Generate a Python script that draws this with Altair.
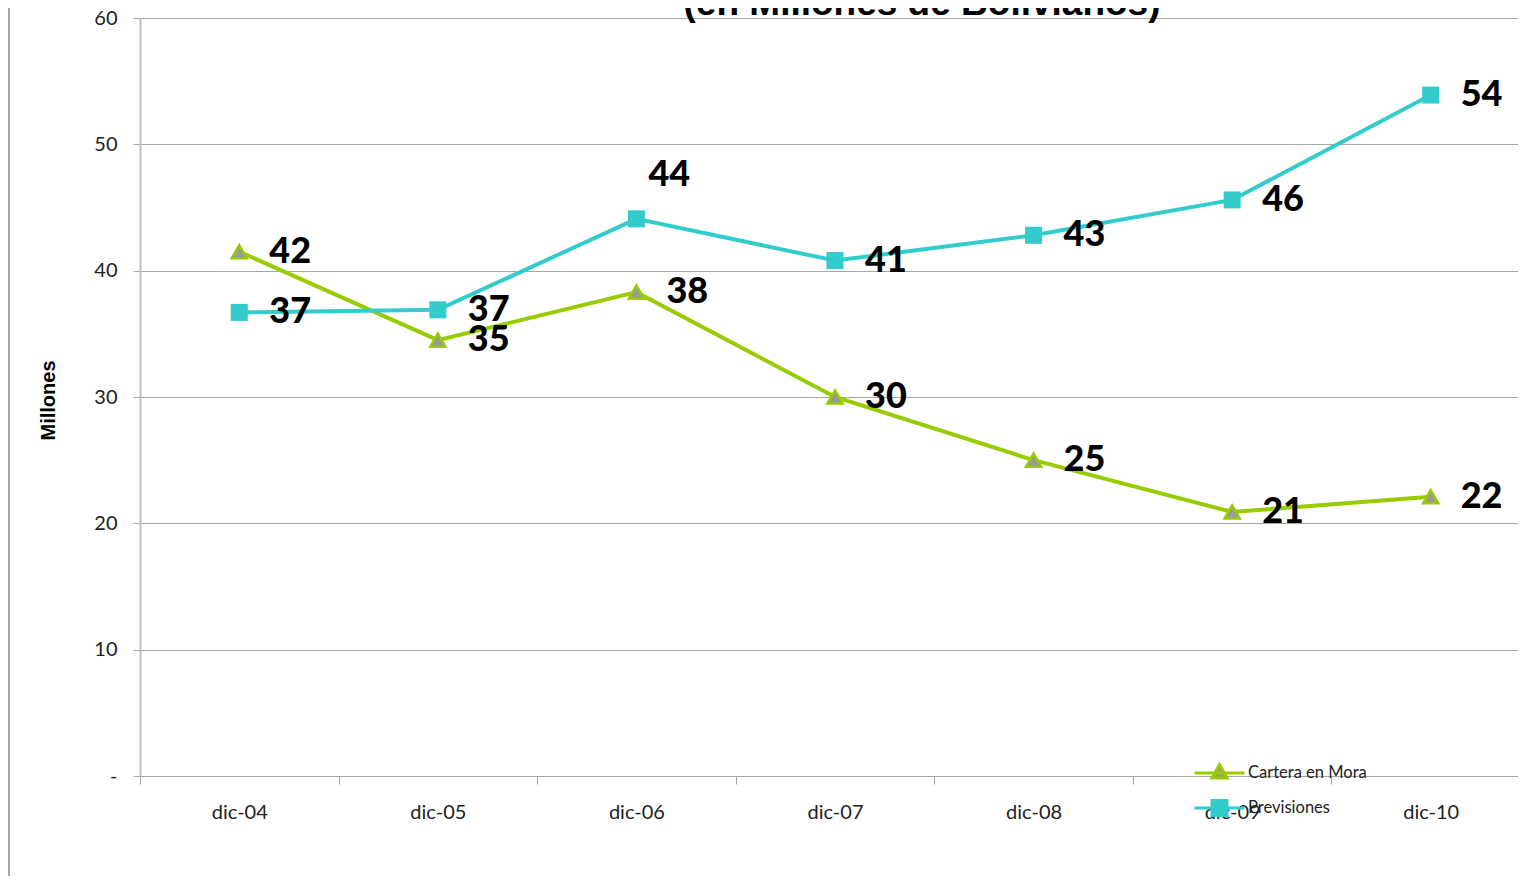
import altair as alt
import pandas as pd

categories = ["dic-04", "dic-05", "dic-06", "dic-07", "dic-08", "dic-09", "dic-10"]
series_names = ["Cartera en Mora", "Previsiones"]
cartera = [41.5, 34.5, 38.3, 30.0, 25.0, 20.9, 22.1]
previsiones = [36.7, 36.9, 44.1, 40.8, 42.8, 45.6, 53.9]
y_ticks = [0, 10, 20, 30, 40, 50, 60]

GREEN = "#99CC00"
CYAN = "#33CCCC"
GRAY_FILL = "#999999"

rows = []
for c, v in zip(categories, cartera):
    rows.append({"cat": c, "series": series_names[0], "value": v})
for c, v in zip(categories, previsiones):
    rows.append({"cat": c, "series": series_names[1], "value": v})
df = pd.DataFrame(rows)

x_enc = alt.X(
    "cat:N",
    sort=categories,
    bandPosition=0.5,
    scale=alt.Scale(type="band", paddingInner=0, paddingOuter=0, range=[0, 1390]),
    axis=alt.Axis(
        title=None, tickBand="extent", grid=False, domainColor="#A6A6A6",
        tickColor="#A6A6A6", tickSize=8, labelFont="Lato", labelFontSize=20,
        labelColor="#222222", labelAngle=0, labelPadding=18,
    ),
)
y_enc = alt.Y(
    "value:Q",
    scale=alt.Scale(domain=[0, 60], nice=False, zero=True),
    axis=alt.Axis(
        values=y_ticks, grid=True, gridColor="#A6A6A6", gridWidth=1,
        domainColor="#BFBFBF", domainWidth=2, tickColor="#A6A6A6", tickSize=7,
        labelFont="Lato", labelFontSize=20, labelColor="#222222", labelPadding=16,
        labelExpr="datum.value == 0 ? '-\u00a0\u00a0\u00a0\u00a0\u00a0' : datum.label",
        title="Millones", titleFont="Liberation Sans Narrow, Liberation Sans",
        titleFontSize=20, titleFontWeight="bold", titleColor="#000000",
        titleX=-92, titleY=382, titleAngle=-90, titleAlign="center",
        titleBaseline="middle",
    ),
)

base = alt.Chart(df)

lines = base.mark_line(strokeWidth=4).encode(
    x=x_enc, y=y_enc,
    color=alt.Color("series:N", scale=alt.Scale(domain=series_names, range=[GREEN, CYAN]), legend=None),
)

tri = base.mark_point(shape="triangle-up", filled=True, fill=GRAY_FILL, stroke=GREEN,
                      strokeWidth=2.5, size=230, opacity=1).encode(x=x_enc, y=y_enc).transform_filter(
    alt.datum.series == series_names[0])

sq = base.mark_point(shape="square", filled=True, color=CYAN, size=290, opacity=1).encode(
    x=x_enc, y=y_enc).transform_filter(alt.datum.series == series_names[1])

path1 = "M-1,0L1,0M-0.3,0.2L0,-0.34L0.3,0.2Z"
path2 = "M-1,0L1,0M-0.3,-0.3L0.3,-0.3L0.3,0.3L-0.3,0.3Z"

leg = alt.Legend(
    title=None, orient="none", legendX=1053, legendY=740, padding=0,
    symbolSize=2500, symbolStrokeWidth=3, symbolOpacity=1, clipHeight=30,
    rowPadding=5, labelFont="Lato", labelFontSize=16.5, labelColor="#222222",
    labelOffset=2,
)

legend_layer = base.mark_point(filled=True, opacity=0, strokeWidth=3).encode(
    x=x_enc, y=y_enc,
    fill=alt.Fill("series:N", scale=alt.Scale(domain=series_names, range=[GRAY_FILL, CYAN]), legend=leg),
    stroke=alt.Stroke("series:N", scale=alt.Scale(domain=series_names, range=[GREEN, CYAN]), legend=leg),
    shape=alt.Shape("series:N", scale=alt.Scale(domain=series_names, range=[path1, path2]), legend=leg),
)

label_style = dict(align="left", baseline="middle", fontSize=36, fontWeight=900,
                   font="Lato", color="#000000")
special = "datum.series == 'Previsiones' && datum.cat == 'dic-06'"

labels = base.mark_text(dx=30, **label_style).encode(
    x=x_enc, y=y_enc, text=alt.Text("value:Q", format=".0f")
).transform_filter("!(" + special + ")")

labels_special = base.mark_text(dx=12, dy=-44, **label_style).encode(
    x=x_enc, y=y_enc, text=alt.Text("value:Q", format=".0f")
).transform_filter(special)

deco = alt.Chart(alt.Data(values=[{}]))
title = deco.mark_text(text="(en Millones de Bolivianos)", font="Liberation Sans", fontSize=37,
                       fontWeight="bold", align="center", baseline="alphabetic", color="#000000").encode(
    x=alt.value(782), y=alt.value(-3))
border = deco.mark_rule(color="#A6A6A6", strokeWidth=2).encode(
    x=alt.value(-131), y=alt.value(-20), y2=alt.value(900))

chart = alt.layer(
    border, lines, tri, sq, legend_layer, labels, labels_special, title
).properties(
    width=1378, height=758,
    autosize=alt.AutoSizeParams(type="none"),
    padding={"left": 132, "top": 10, "right": 0, "bottom": 100},
).resolve_scale(color="independent").configure_view(stroke=None)

chart.save("out.html", embed_options={"renderer": "svg", "actions": False})
